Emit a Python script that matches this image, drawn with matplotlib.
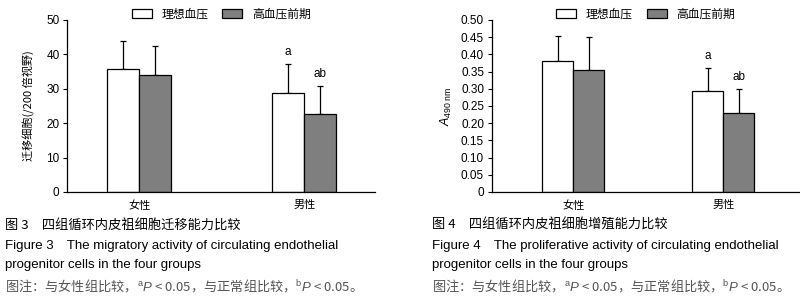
import matplotlib
matplotlib.use("Agg")
import matplotlib.pyplot as plt
import numpy as np

# ── Data ──────────────────────────────────────────────────────────────────────
groups = ["女性", "男性"]
series_names = ["理想血压", "高血压前期"]

# Figure 3: migrated cells per 200x field
mig_ideal = [35.7, 28.7]
mig_ideal_err = [8.1, 8.4]
mig_pre = [33.9, 22.6]
mig_pre_err = [8.5, 8.1]

# Figure 4: A490 nm
pro_ideal = [0.380, 0.293]
pro_ideal_err = [0.073, 0.068]
pro_pre = [0.354, 0.229]
pro_pre_err = [0.096, 0.071]

sig_labels = [["", "a"], ["", "ab"]]

# ── Style ─────────────────────────────────────────────────────────────────────
CJK = ["Noto Sans CJK SC", "DejaVu Sans"]
plt.rcParams["font.family"] = ["Liberation Sans", "Noto Sans CJK SC", "DejaVu Sans"]
plt.rcParams["mathtext.fontset"] = "custom"
plt.rcParams["mathtext.rm"] = "Liberation Sans"
plt.rcParams["mathtext.it"] = "Liberation Sans:italic"
WHITE = "#ffffff"
GRAY = "#7f7f7f"

fig = plt.figure(figsize=(8, 3.05), dpi=100)


def draw_panel(ax, ideal, ideal_err, pre, pre_err, width, xlim, ylim, yticks, fmt):
    x = np.arange(len(groups))
    ax.bar(x - width / 2, ideal, width, color=WHITE, edgecolor="black", linewidth=0.9,
           label=series_names[0], zorder=2)
    ax.bar(x + width / 2, pre, width, color=GRAY, edgecolor="black", linewidth=0.9,
           label=series_names[1], zorder=2)
    ax.errorbar(x - width / 2, ideal, yerr=[np.zeros(len(x)), ideal_err], fmt="none",
                ecolor="black", elinewidth=0.9, capsize=2.5, capthick=0.9, zorder=1)
    ax.errorbar(x + width / 2, pre, yerr=[np.zeros(len(x)), pre_err], fmt="none",
                ecolor="black", elinewidth=0.9, capsize=2.5, capthick=0.9, zorder=1)
    off = (ylim[1] - ylim[0]) * 0.035
    for i in range(len(x)):
        if sig_labels[0][i]:
            ax.text(x[i] - width / 2, ideal[i] + ideal_err[i] + off, sig_labels[0][i],
                    ha="center", va="bottom", fontsize=8.5)
        if sig_labels[1][i]:
            ax.text(x[i] + width / 2, pre[i] + pre_err[i] + off, sig_labels[1][i],
                    ha="center", va="bottom", fontsize=8.5)
    ax.set_xlim(*xlim)
    ax.set_ylim(*ylim)
    ax.set_yticks(yticks)
    ax.set_yticklabels([fmt(v) for v in yticks], fontsize=8.5)
    ax.set_xticks(x)
    ax.set_xticklabels(groups, fontsize=8, family=CJK)
    ax.tick_params(axis="x", length=0, pad=6)
    ax.tick_params(axis="y", direction="out", length=3, width=0.8, pad=2.5)
    for s in ["top", "right"]:
        ax.spines[s].set_visible(False)
    for s in ["left", "bottom"]:
        ax.spines[s].set_linewidth(0.9)
    ax.legend(loc="lower center", bbox_to_anchor=(0.5, 0.97), ncol=2, frameon=False,
              prop={"family": CJK, "size": 8.5}, handlelength=1.7, handleheight=0.75,
              columnspacing=1.2, handletextpad=0.8, borderaxespad=0)


ax1 = fig.add_axes([0.084, 0.3705, 0.385, 0.564])
draw_panel(ax1, mig_ideal, mig_ideal_err, mig_pre, mig_pre_err, 0.194,
           (-0.436, 1.43), (0, 50), [0, 10, 20, 30, 40, 50], lambda v: f"{v:g}")
ax1.set_ylabel("迁移细胞(/200 倍视野)", fontsize=8, family=CJK, labelpad=8)

ax2 = fig.add_axes([0.6146, 0.3705, 0.3854, 0.564])
draw_panel(ax2, pro_ideal, pro_ideal_err, pro_pre, pro_pre_err, 0.207,
           (-0.544, 1.511), (0, 0.5), list(np.round(np.arange(0, 0.51, 0.05), 2)),
           lambda v: "0" if v == 0 else f"{v:.2f}")
ax2.set_ylabel(r"$A_{490\ \mathrm{nm}}$", fontsize=9, labelpad=5)

# ── Captions ──────────────────────────────────────────────────────────────────
caps = [
    (0.006, "图 3　四组循环内皮祖细胞迁移能力比较",
     "Figure 3　The migratory activity of circulating endothelial"),
    (0.54, "图 4　四组循环内皮祖细胞增殖能力比较",
     "Figure 4　The proliferative activity of circulating endothelial"),
]
note = "图注：与女性组比较，$^{\\mathrm{a}}P$ < 0.05，与正常组比较，$^{\\mathrm{b}}P$ < 0.05。"
for xc, zh, en in caps:
    fig.text(xc, 1 - 225 / 305, zh, fontsize=9.5, family=CJK, va="center")
    fig.text(xc, 1 - 246 / 305, en, fontsize=9.5, family=["Liberation Sans", "Noto Sans CJK SC"], va="center")
    fig.text(xc, 1 - 265 / 305, "progenitor cells in the four groups", fontsize=9.5,
             family=["Liberation Sans"], va="center")
    fig.text(xc, 1 - 285 / 305, note, fontsize=9.5, family=CJK, va="center", color="#555555")

fig.savefig("out.png", dpi=100)
